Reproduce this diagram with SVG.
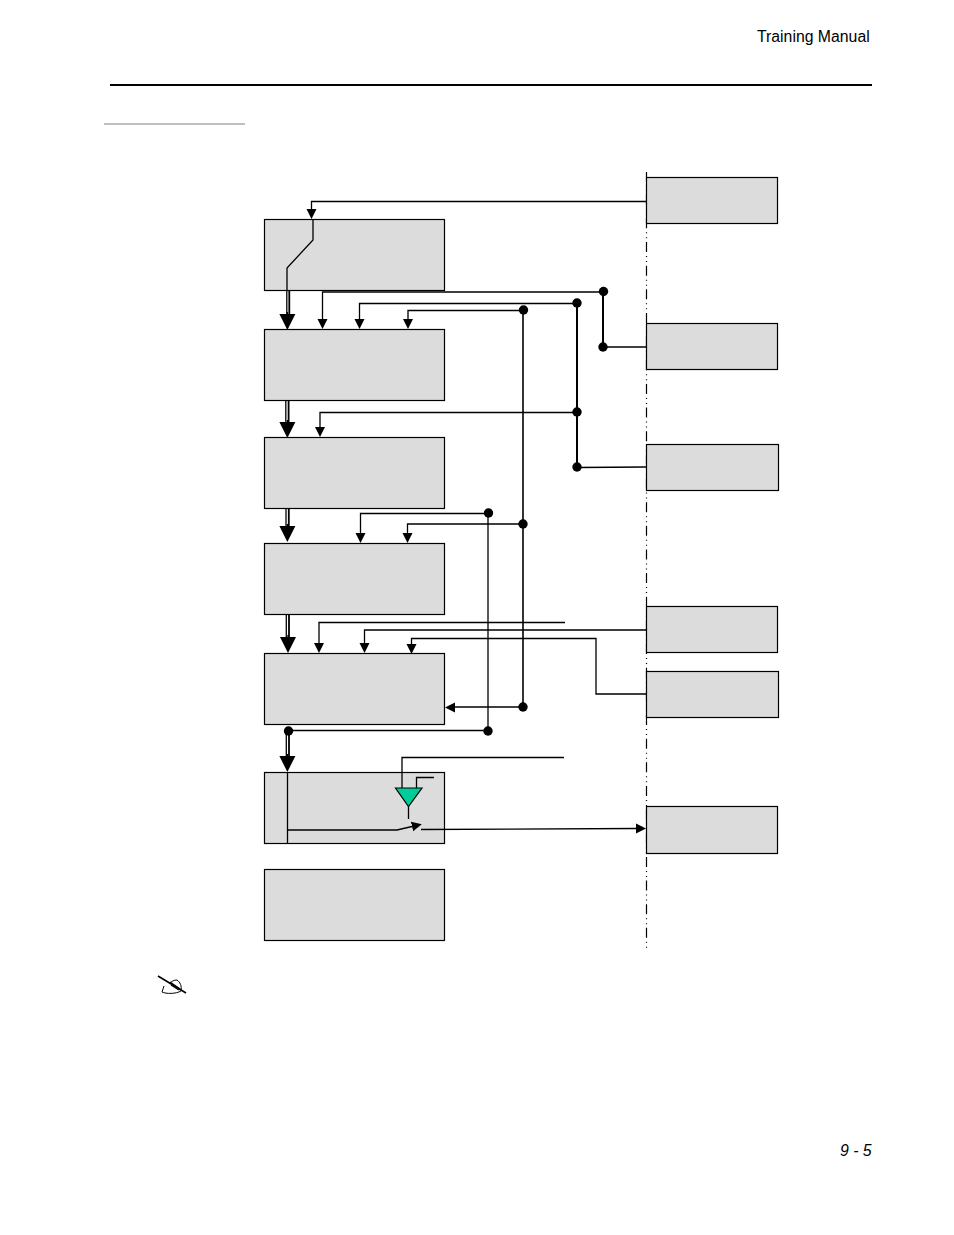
<svg xmlns="http://www.w3.org/2000/svg" width="954" height="1235" viewBox="0 0 954 1235">
<style>
.box{fill:#dcdcdc;stroke:#000;stroke-width:1.2}
.w{fill:none;stroke:#000;stroke-width:1.3}
.t{fill:none;stroke:#000;stroke-width:2}
.s{marker-end:url(#small)}
.b{marker-end:url(#big)}
.dot{fill:#000}
text{font-family:"Liberation Sans",Arial,sans-serif;font-size:15.8px;fill:#000}
</style>
<defs>
<marker id="small" markerUnits="userSpaceOnUse" markerWidth="11" markerHeight="12" refX="0" refY="5.5" orient="auto"><path d="M0,0.5 L10,5.5 L0,10.5Z" fill="#000"/></marker>
<marker id="big" markerUnits="userSpaceOnUse" markerWidth="17" markerHeight="18" refX="0" refY="9" orient="auto"><path d="M0,1 L16,9 L0,17Z" fill="#000"/></marker>
</defs>
<rect width="954" height="1235" fill="#fff"/>
<text id="header" x="757" y="42">Training Manual</text>
<path id="top-rule" d="M110,85H872" stroke="#000" stroke-width="2" fill="none"/>
<path id="sub-rule" d="M104,124H245" stroke="#c0c0c0" stroke-width="2" fill="none"/>
<path id="boundary" d="M646.5,172V950" fill="none" stroke="#000" stroke-width="1.2" stroke-dasharray="10 4 1 4 1 3.65" stroke-dashoffset="0.95"/>

<g id="node-l1"><rect class="box" x="264.5" y="219.5" width="180" height="71"/></g>
<g id="node-l2"><rect class="box" x="264.5" y="329.5" width="180" height="71"/></g>
<g id="node-l3"><rect class="box" x="264.5" y="437.5" width="180" height="71"/></g>
<g id="node-l4"><rect class="box" x="264.5" y="543.5" width="180" height="71"/></g>
<g id="node-l5"><rect class="box" x="264.5" y="653.5" width="180" height="71"/></g>
<g id="node-l6"><rect class="box" x="264.5" y="772.5" width="180" height="71"/></g>
<g id="node-l7"><rect class="box" x="264.5" y="869.5" width="180" height="71"/></g>
<g id="node-r1"><rect class="box" x="646.5" y="177.5" width="131" height="46"/></g>
<g id="node-r2"><rect class="box" x="646.5" y="323.5" width="131" height="46"/></g>
<g id="node-r3"><rect class="box" x="646.5" y="444.5" width="132" height="46"/></g>
<g id="node-r4"><rect class="box" x="646.5" y="606.5" width="131" height="46"/></g>
<g id="node-r5"><rect class="box" x="646.5" y="671.5" width="132" height="46"/></g>
<g id="node-r6"><rect class="box" x="646.5" y="806.5" width="131" height="47"/></g>
<g id="amp"><path d="M395.5,788H422L408.5,806.5Z" fill="#00cc99" stroke="#000" stroke-width="1.2"/></g>

<g id="connectors">
<path class="w s" d="M646,201.5H311.5V209"/>
<path class="w" d="M313,219V240L287,268V291"/>

<path class="w" d="M286.8,291V316"/><path class="w" stroke-width="1.8" d="M289.3,291V316" style="stroke-width:1.8"/><path class="w b" d="M287.4,312V314"/>
<path class="w" d="M285.8,401V424"/><path class="w" style="stroke-width:1.8" d="M288.6,401V424"/><path class="w b" d="M287.4,420V422"/>
<path class="w" d="M286,508V528"/><path class="w" style="stroke-width:1.8" d="M288.8,508V528"/><path class="w b" d="M287.4,524V526"/>
<path class="w" d="M286.3,615V639"/><path class="w" style="stroke-width:1.8" d="M289,615V639"/><path class="w b" d="M288,635V637"/>
<path class="w" d="M286.3,731V758"/><path class="w" style="stroke-width:1.8" d="M289,731V758"/><path class="w b" d="M287.4,754V756"/>

<path class="w s" d="M603,292H322.5V319"/>
<path class="t" d="M603,292V347"/>
<path class="w" d="M603,347H646" style="stroke-width:1.6"/>
<path class="w s" d="M577,303.5H359.5V319"/>
<path class="t" d="M577,303V467"/>
<path class="w s" d="M577,412.5H320V427"/>
<path class="w" d="M577,467.5L646,467"/>
<path class="w s" d="M523,310.5H408V319"/>
<path class="w" d="M523,310V707" style="stroke-width:1.6"/>
<path class="w s" d="M523,524H407.5V533"/>
<path class="w" d="M523,707H455"/>
<path d="M445,707.5L455,702.5V712.5Z" fill="#000"/>
<path class="w s" d="M488,513.5H360.5V533"/>
<path class="w" d="M488,513V731"/>
<path class="w" d="M488,730.5H288"/>

<path class="w s" d="M565,622.5H319V643"/>
<path class="w s" d="M646,630H364.5V643"/>
<path class="w s" d="M646,694H596V638.5H411.5V644"/>

<path class="w" d="M564,757.5H402V788"/>
<path class="w" d="M434,777.5H416.5V788"/>
<path class="w" d="M408.5,806V819"/>
<path class="w" d="M287.5,772V843"/>
<path class="w s" d="M287,830H397L412,826.5"/>
<path class="w s" d="M421,829.5L636,828.5"/>

<circle class="dot" cx="603.5" cy="291.5" r="4.7"/>
<circle class="dot" cx="603" cy="347" r="4.7"/>
<circle class="dot" cx="577" cy="303" r="4.7"/>
<circle class="dot" cx="577" cy="412" r="4.7"/>
<circle class="dot" cx="577" cy="467" r="4.7"/>
<circle class="dot" cx="523.5" cy="310" r="4.7"/>
<circle class="dot" cx="523" cy="524" r="4.7"/>
<circle class="dot" cx="523" cy="707" r="4.7"/>
<circle class="dot" cx="488.5" cy="513" r="4.7"/>
<circle class="dot" cx="488" cy="731" r="4.7"/>
<circle class="dot" cx="288.5" cy="731" r="4.7"/>
</g>

<g id="note-icon" fill="none" stroke="#000">
<path d="M158,976L186,993" stroke-width="1.6"/>
<path d="M164,986L162,992C166,994 176,994 181,991C182,986 180,982 177,980C174,980 172,981 170,983" stroke-width="1"/>
<path d="M170,982L180,989M171,985L179,990" stroke-width="1.4"/>
</g>
<text id="page-no" x="840" y="1156" font-style="italic">9 - 5</text>
</svg>
